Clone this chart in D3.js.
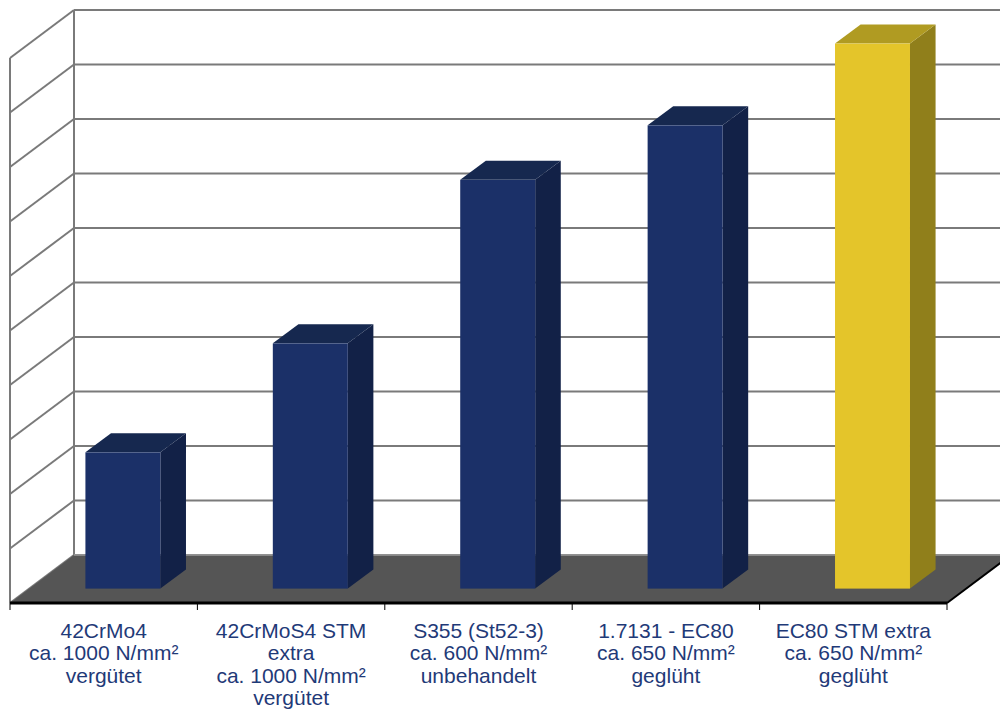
<!DOCTYPE html>
<html>
<head>
<meta charset="utf-8">
<script src="https://cdn.jsdelivr.net/npm/d3@7"></script>
<style>
  html, body { margin: 0; padding: 0; background: #fff; }
  svg { display: block; }
</style>
</head>
<body>
<div id="chart"></div>
<script>
// categories and values (value axis has no labels, read as grid units 0..10)
const categories = ["42CrMo4", "42CrMoS4 STM extra", "S355 (St52-3)", "1.7131 - EC80", "EC80 STM extra"];
const labelLines = [
    ["42CrMo4", "ca. 1000 N/mm²", "vergütet"],
    ["42CrMoS4 STM", "extra", "ca. 1000 N/mm²", "vergütet"],
    ["S355 (St52-3)", "ca. 600 N/mm²", "unbehandelt"],
    ["1.7131 - EC80", "ca. 650 N/mm²", "geglüht"],
    ["EC80 STM extra", "ca. 650 N/mm²", "geglüht"]
];
const values = [2.5, 4.5, 7.5, 8.5, 10];
const gridTicks = [0, 1, 2, 3, 4, 5, 6, 7, 8, 9, 10];

const width = 1000;
const height = 713;

// oblique depth of the 3d box
const depthX = 64;
const depthY = -48;

const barColors = [
    { front: "#1b3068", top: "#16284f", side: "#122147" },
    { front: "#1b3068", top: "#16284f", side: "#122147" },
    { front: "#1b3068", top: "#16284f", side: "#122147" },
    { front: "#1b3068", top: "#16284f", side: "#122147" },
    { front: "#e4c52a", top: "#b09b22", side: "#907f1b" }
];

const svg = d3.select("#chart")
    .append("svg")
    .attr("width", width)
    .attr("height", height);

const x = d3.scaleBand()
    .domain(categories)
    .range([10, 947]);

const y = d3.scaleLinear()
    .domain([0, 10])
    .range([603, 58]);

const gridColor = "#7a7a7a";

// side wall (left)
const walls = svg.append("g");
walls.append("line")
    .attr("x1", 10).attr("y1", y(10))
    .attr("x2", 10).attr("y2", y(0))
    .attr("stroke", gridColor).attr("stroke-width", 2);
walls.append("line")
    .attr("x1", 10 + depthX).attr("y1", y(10) + depthY)
    .attr("x2", 10 + depthX).attr("y2", y(0) + depthY)
    .attr("stroke", gridColor).attr("stroke-width", 2);

walls.selectAll(".side-grid")
    .data(gridTicks)
    .enter().append("line")
    .attr("class", "side-grid")
    .attr("x1", 10).attr("y1", d => y(d))
    .attr("x2", 10 + depthX).attr("y2", d => y(d) + depthY)
    .attr("stroke", gridColor).attr("stroke-width", 2);

walls.selectAll(".back-grid")
    .data(gridTicks)
    .enter().append("line")
    .attr("class", "back-grid")
    .attr("x1", 10 + depthX).attr("y1", d => y(d) + depthY)
    .attr("x2", x.range()[1] + depthX).attr("y2", d => y(d) + depthY)
    .attr("stroke", gridColor).attr("stroke-width", 2);

// floor
const x0 = x.range()[0], x1 = x.range()[1];
svg.append("polygon")
    .attr("points", [
        [x0, y(0)], [x1, y(0)],
        [x1 + depthX, y(0) + depthY], [x0 + depthX, y(0) + depthY]
    ].map(p => p.join(",")).join(" "))
    .attr("fill", "#555555");

svg.append("line")
    .attr("x1", x0 + depthX).attr("y1", y(0) + depthY)
    .attr("x2", x1 + depthX).attr("y2", y(0) + depthY)
    .attr("stroke", "#9a9a9a").attr("stroke-width", 1.5);

// bars
const bw = x.bandwidth();
const fFront = 0.3, fBack = 0.7;
const bars = svg.selectAll(".bar")
    .data(values)
    .enter().append("g")
    .attr("class", "bar");

function pts(arr) { return arr.map(p => p.join(",")).join(" "); }

bars.each(function (d, i) {
    const g = d3.select(this);
    const left = x(categories[i]) + bw * 0.3 + depthX * fFront;
    const right = left + bw * 0.4;
    const top = y(d) + depthY * fFront;
    const bottom = y(0) + depthY * fFront;
    const dx = depthX * (fBack - fFront);
    const dy = depthY * (fBack - fFront);
    const c = barColors[i];

    g.append("polygon")
        .attr("points", pts([[right, top], [right + dx, top + dy], [right + dx, bottom + dy], [right, bottom]]))
        .attr("fill", c.side);
    g.append("polygon")
        .attr("points", pts([[left, top], [right, top], [right + dx, top + dy], [left + dx, top + dy]]))
        .attr("fill", c.top);
    g.append("rect")
        .attr("x", left)
        .attr("y", top)
        .attr("width", right - left)
        .attr("height", bottom - top)
        .attr("fill", c.front);
});

// floor front edge and right edge
svg.append("line")
    .attr("x1", x0).attr("y1", y(0))
    .attr("x2", x1).attr("y2", y(0))
    .attr("stroke", "#000").attr("stroke-width", 3);
svg.append("line")
    .attr("x1", x1).attr("y1", y(0))
    .attr("x2", x1 + depthX).attr("y2", y(0) + depthY)
    .attr("stroke", "#000").attr("stroke-width", 2);

// ticks at category boundaries
const tickXs = categories.map(c => x(c)).concat([x1]);
svg.selectAll(".tick-mark")
    .data(tickXs)
    .enter().append("line")
    .attr("class", "tick-mark")
    .attr("x1", d => d).attr("y1", y(0))
    .attr("x2", d => d).attr("y2", y(0) + 7)
    .attr("stroke", "#000").attr("stroke-width", 1);

// category labels
const labels = svg.selectAll(".cat-label")
    .data(labelLines)
    .enter().append("text")
    .attr("class", "cat-label")
    .attr("text-anchor", "middle")
    .attr("font-family", "'Liberation Sans', Arial, sans-serif")
    .attr("font-size", 21)
    .attr("fill", "#1f3a78");

labels.each(function (lines, i) {
    const t = d3.select(this);
    const cx = x(categories[i]) + bw / 2;
    lines.forEach((line, j) => {
        t.append("tspan")
            .attr("x", cx)
            .attr("y", 638 + j * 22.3)
            .text(line);
    });
});
</script>
</body>
</html>
